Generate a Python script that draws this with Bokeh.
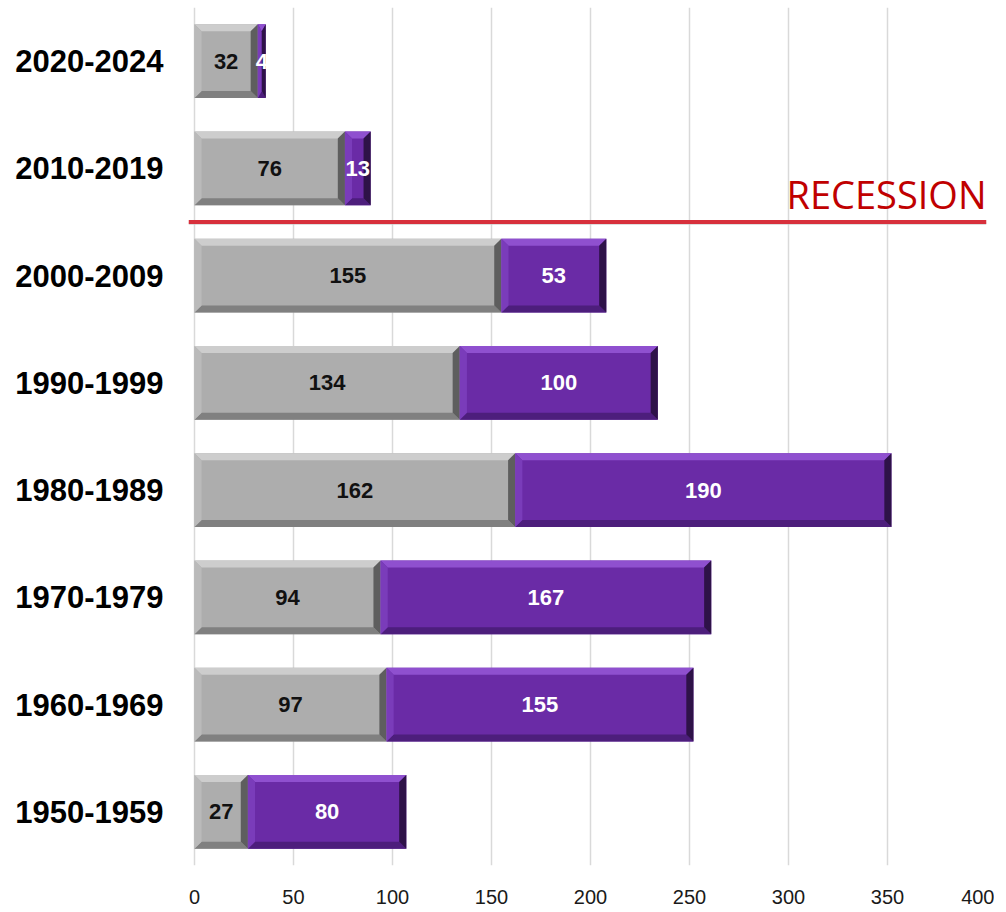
from bokeh.plotting import figure
from bokeh.models import Range1d, FixedTicker, Span, Label, ColumnDataSource
from bokeh.core.properties import value
from bokeh.embed import file_html
from bokeh.resources import INLINE

# Data (bottom to top)
decades = ["1950-1959", "1960-1969", "1970-1979", "1980-1989",
           "1990-1999", "2000-2009", "2010-2019", "2020-2024"]
gray_vals = [27, 97, 94, 162, 134, 155, 76, 32]
purple_vals = [80, 155, 167, 190, 100, 53, 13, 4]
x_ticks = [0, 50, 100, 150, 200, 250, 300, 350, 400]
recession_after = "2010-2019"   # line drawn below this decade
recession_label = "RECESSION"

BAR_H = 0.687
pos = [i + 0.5 for i in range(len(decades))]

p = figure(width=994, height=906, output_backend="svg", toolbar_location=None,
           x_range=Range1d(-3, 400), y_range=Range1d(0, len(decades)),
           min_border_left=188, min_border_right=8, min_border_top=7,
           min_border_bottom=37)
p.outline_line_color = None
p.background_fill_color = "white"
p.border_fill_color = "white"

# grid
p.xgrid.ticker = FixedTicker(ticks=x_ticks)
p.xgrid.grid_line_color = "#d9d9d9"
p.xgrid.grid_line_width = 1.5
p.ygrid.grid_line_color = None

# axes
p.xaxis.ticker = FixedTicker(ticks=x_ticks)
p.xaxis.axis_line_color = None
p.xaxis.major_tick_line_color = None
p.xaxis.minor_tick_line_color = None
p.xaxis.major_label_text_font = "Liberation Sans"
p.xaxis.major_label_text_font_size = "20px"
p.xaxis.major_label_text_color = "#1a1a1a"
p.xaxis.major_label_standoff = 18

p.yaxis.ticker = FixedTicker(ticks=pos)
p.yaxis.major_label_overrides = {pv: d for pv, d in zip(pos, decades)}
p.yaxis.axis_line_color = None
p.yaxis.major_tick_line_color = None
p.yaxis.minor_tick_line_color = None
p.yaxis.major_label_text_font = "Liberation Sans"
p.yaxis.major_label_text_font_style = "bold"
p.yaxis.major_label_text_font_size = "31px"
p.yaxis.major_label_text_color = "black"
p.yaxis.major_label_standoff = 19

lefts_g = [0] * len(decades)
rights_g = gray_vals
lefts_p = gray_vals
rights_p = [g + v for g, v in zip(gray_vals, purple_vals)]

def draw_segments(lefts, rights, main, top, left_c, bottom, right_c):
    p.hbar(y=pos, left=lefts, right=rights, height=BAR_H, fill_color=main,
           line_color=None)
    dx0 = 3.6
    dy = 0.066
    hh = BAR_H / 2
    tops_xs, tops_ys, bots_xs, bots_ys = [], [], [], []
    ls_xs, ls_ys, rs_xs, rs_ys = [], [], [], []
    for x0, x1, yc in zip(lefts, rights, pos):
        dx = min(dx0, (x1 - x0) / 2.0)
        yt, yb = yc + hh, yc - hh
        tops_xs.append([x0, x1, x1 - dx, x0 + dx]); tops_ys.append([yt, yt, yt - dy, yt - dy])
        bots_xs.append([x0, x1, x1 - dx, x0 + dx]); bots_ys.append([yb, yb, yb + dy, yb + dy])
        ls_xs.append([x0, x0, x0 + dx, x0 + dx]); ls_ys.append([yt, yb, yb + dy, yt - dy])
        rs_xs.append([x1, x1, x1 - dx, x1 - dx]); rs_ys.append([yt, yb, yb + dy, yt - dy])
    p.patches(tops_xs, tops_ys, fill_color=top, line_color=None)
    p.patches(bots_xs, bots_ys, fill_color=bottom, line_color=None)
    p.patches(ls_xs, ls_ys, fill_color=left_c, line_color=None)
    p.patches(rs_xs, rs_ys, fill_color=right_c, line_color=None)

draw_segments(lefts_g, rights_g, "#adadad", "#cdcdcd", "#bababa", "#808080", "#5e5e5e")
draw_segments(lefts_p, rights_p, "#6a2ba6", "#8f50cf", "#7a3cba", "#4d1e7c", "#2e1248")

# value labels
src_g = ColumnDataSource(dict(x=[(l + r) / 2 for l, r in zip(lefts_g, rights_g)], y=pos,
                              t=[str(v) for v in gray_vals]))
src_p = ColumnDataSource(dict(x=[(l + r) / 2 for l, r in zip(lefts_p, rights_p)], y=pos,
                              t=[str(v) for v in purple_vals]))
p.text(x="x", y="y", text="t", source=src_g, text_align="center", text_baseline="middle",
       text_font=value("Liberation Sans"), text_font_style="bold", text_font_size="22px",
       text_color="#111111")
p.text(x="x", y="y", text="t", source=src_p, text_align="center", text_baseline="middle",
       text_font=value("Liberation Sans"), text_font_style="bold", text_font_size="22px",
       text_color="white")

# recession line
rec_y = pos[decades.index(recession_after)] - 0.5
p.add_layout(Span(location=rec_y - 0.014, dimension="width", line_color="#c8c8c8",
                  line_width=3, line_alpha=0.6))
p.add_layout(Span(location=rec_y, dimension="width", line_color="#d7303c", line_width=4))
p.add_layout(Label(x=400, y=rec_y, text=recession_label, text_align="right",
                   text_baseline="alphabetic", y_offset=28,
                   text_font="Open Sans", text_font_size="38px", text_color="#c00000"))

open("out.html", "w").write(file_html(p, INLINE))
